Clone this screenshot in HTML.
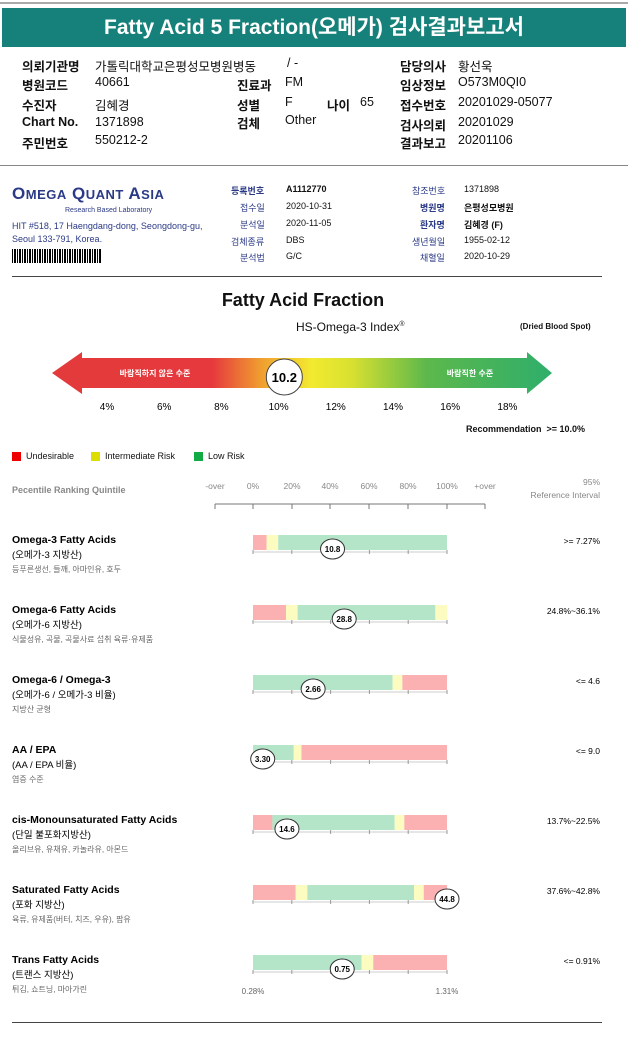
<!DOCTYPE html>
<html><head><meta charset="utf-8">
<style>
body{margin:0;width:628px;height:1040px;background:#fff;font-family:"Liberation Sans","Noto Sans CJK KR",sans-serif;position:relative;overflow:hidden;color:#111}
.a{position:absolute;white-space:nowrap}
.b{font-weight:bold}
</style></head><body>
<div class="a" style="left:0;top:2px;width:628px;height:2px;background:#aaa"></div>
<div class="a" style="left:2px;top:8px;width:624px;height:39px;background:#16807a;color:#fff;font-size:21px;font-weight:bold;text-align:center;line-height:39px">Fatty Acid 5 Fraction(오메가) 검사결과보고서</div>
<div style="font-size:12.5px">
<div class="a b" style="left:22px;top:56px">의뢰기관명</div><div class="a" style="left:95px;top:56px">가톨릭대학교은평성모병원병동</div><div class="a" style="left:287px;top:56px">/ -</div>
<div class="a b" style="left:400px;top:56px">담당의사</div><div class="a" style="left:458px;top:56px">황선욱</div>
<div class="a b" style="left:22px;top:75px">병원코드</div><div class="a" style="left:95px;top:75px">40661</div><div class="a b" style="left:237px;top:75px">진료과</div><div class="a" style="left:285px;top:75px">FM</div>
<div class="a b" style="left:400px;top:75px">임상정보</div><div class="a" style="left:458px;top:75px">O573M0QI0</div>
<div class="a b" style="left:22px;top:95px">수진자</div><div class="a" style="left:95px;top:95px">김혜경</div><div class="a b" style="left:237px;top:95px">성별</div><div class="a" style="left:285px;top:95px">F</div><div class="a b" style="left:327px;top:95px">나이</div><div class="a" style="left:360px;top:95px">65</div>
<div class="a b" style="left:400px;top:95px">접수번호</div><div class="a" style="left:458px;top:95px">20201029-05077</div>
<div class="a b" style="left:22px;top:115px">Chart No.</div><div class="a" style="left:95px;top:115px">1371898</div><div class="a b" style="left:237px;top:113px">검체</div><div class="a" style="left:285px;top:113px">Other</div>
<div class="a b" style="left:400px;top:115px">검사의뢰</div><div class="a" style="left:458px;top:115px">20201029</div>
<div class="a b" style="left:22px;top:133px">주민번호</div><div class="a" style="left:95px;top:133px">550212-2</div>
<div class="a b" style="left:400px;top:133px">결과보고</div><div class="a" style="left:458px;top:133px">20201106</div>
</div>
<div class="a" style="left:0;top:165px;width:628px;height:1px;background:#888"></div>
<div style="font-size:9px">
<div class="a" style="left:12px;top:184px;font-size:17px;color:#2b3a86;letter-spacing:0.5px;font-weight:bold">O<span style="font-size:13px">MEGA</span> Q<span style="font-size:13px">UANT</span> A<span style="font-size:13px">SIA</span></div>
<div class="a" style="left:65px;top:207px;font-size:7px;color:#2b3a86">Research Based Laboratory</div>
<div class="a" style="left:12px;top:221px;color:#2b3a86">HIT #518, 17 Haengdang-dong, Seongdong-gu,</div>
<div class="a" style="left:12px;top:234px;color:#2b3a86">Seoul 133-791, Korea.</div>
<div class="a" style="left:12px;top:249px;width:90px;height:14px;background:repeating-linear-gradient(90deg,#000 0 1px,#fff 1px 2px,#000 2px 4px,#fff 4px 5px)"></div>
<div class="a b" style="left:231px;top:184px;color:#2b3a86">등록번호</div><div class="a b" style="left:286px;top:184px">A1112770</div>
<div class="a" style="left:240px;top:201px;color:#2b3a86">접수일</div><div class="a" style="left:286px;top:201px">2020-10-31</div>
<div class="a" style="left:240px;top:218px;color:#2b3a86">분석일</div><div class="a" style="left:286px;top:218px">2020-11-05</div>
<div class="a" style="left:231px;top:235px;color:#2b3a86">검체종류</div><div class="a" style="left:286px;top:235px">DBS</div>
<div class="a" style="left:240px;top:251px;color:#2b3a86">분석법</div><div class="a" style="left:286px;top:251px">G/C</div>
<div class="a" style="left:412px;top:184px;color:#2b3a86">참조번호</div><div class="a" style="left:464px;top:184px">1371898</div>
<div class="a b" style="left:420px;top:201px;color:#2b3a86">병원명</div><div class="a b" style="left:464px;top:201px">은평성모병원</div>
<div class="a b" style="left:420px;top:218px;color:#2b3a86">환자명</div><div class="a b" style="left:464px;top:218px">김혜경 (F)</div>
<div class="a" style="left:412px;top:235px;color:#2b3a86">생년월일</div><div class="a" style="left:464px;top:235px">1955-02-12</div>
<div class="a" style="left:420px;top:251px;color:#2b3a86">채혈일</div><div class="a" style="left:464px;top:251px">2020-10-29</div>
</div>
<div class="a" style="left:12px;top:276px;width:590px;height:1px;background:#444"></div>
<div class="a b" style="left:0;width:606px;text-align:center;top:290px;font-size:18px">Fatty Acid Fraction</div>
<div class="a" style="left:296px;top:320px;font-size:12px">HS-Omega-3 Index<sup style="font-size:7px">®</sup></div>
<div class="a b" style="left:520px;top:322px;font-size:8px">(Dried Blood Spot)</div>
<svg class="a" style="left:0;top:340px" width="628" height="100" id="idx"></svg>
<div class="a b" style="left:466px;top:424px;font-size:9px">Recommendation &nbsp;&gt;= 10.0%</div>
<div style="font-size:9px">
<div class="a" style="left:12px;top:452px;width:9px;height:9px;background:#e00"></div><div class="a" style="left:26px;top:451px">Undesirable</div>
<div class="a" style="left:91px;top:452px;width:9px;height:9px;background:#dd0"></div><div class="a" style="left:105px;top:451px">Intermediate Risk</div>
<div class="a" style="left:194px;top:452px;width:9px;height:9px;background:#1a4"></div><div class="a" style="left:208px;top:451px">Low Risk</div>
</div>
<div class="a b" style="left:12px;top:485px;font-size:9px;color:#888">Pecentile Ranking Quintile</div>
<div class="a" style="left:500px;top:476px;font-size:8.5px;color:#888;text-align:right;width:100px;line-height:13px">95%<br>Reference Interval</div>
<svg class="a" style="left:0;top:470px" width="628" height="540" id="rk"></svg>
<div class="a" style="left:12px;top:1022px;width:590px;height:1px;background:#444"></div>
<script>
// HS-Omega-3 index
const idxTicks=[4,6,8,10,12,14,16,18];
const idxValue=[10.2];
// Ranking rows
const rowNames=["Omega-3 Fatty Acids","Omega-6 Fatty Acids","Omega-6 / Omega-3","AA / EPA","cis-Monounsaturated Fatty Acids","Saturated Fatty Acids","Trans Fatty Acids"];
const rowKor=["(오메가-3 지방산)","(오메가-6 지방산)","(오메가-6 / 오메가-3 비율)","(AA / EPA 비율)","(단일 불포화지방산)","(포화 지방산)","(트랜스 지방산)"];
const rowDesc=["등푸른생선, 들깨, 아마인유, 호두","식물성유, 곡물, 곡물사료 섭취 육류·유제품","지방산 균형","염증 수준","올리브유, 유채유, 카놀라유, 아몬드","육류, 유제품(버터, 치즈, 우유), 팜유","튀김, 쇼트닝, 마아가린"];
const rowRef=[">= 7.27%","24.8%~36.1%","<= 4.6","<= 9.0","13.7%~22.5%","37.6%~42.8%","<= 0.91%"];
const rowValues=["10.8","28.8","2.66","3.30","14.6","44.8","0.75"];
const rowPercentile=[41,47,31,5,17.5,100,46];
// segment boundaries (percentile) and colors
const rowSegEnds=[[7,13,100],[17,23,94,100],[72,77,100],[21,25,100],[10,73,78,100],[22,28,83,88,100],[56,62,100]];
const rowSegColors=[["r","y","g"],["r","y","g","y"],["g","y","r"],["g","y","r"],["r","g","y","r"],["r","y","g","y","r"],["g","y","r"]];
const axisLabels=["-over","0%","20%","40%","60%","80%","100%","+over"];
const NS="http://www.w3.org/2000/svg";
function mk(p,t,a){const e=document.createElementNS(NS,t);for(const k in a)e.setAttribute(k,a[k]);p.appendChild(e);return e;}
const ix=v=>107+(v-4)*28.6;
const s1=document.getElementById('idx');
const defs=mk(s1,'defs',{});const lg=mk(defs,'linearGradient',{id:'g1',x1:0,x2:1,y1:0,y2:0});
[[0,'#e33a3c'],[0.32,'#e6393d'],[0.42,'#f0a030'],[0.52,'#f2ea30'],[0.6,'#d8e030'],[0.75,'#5cb84c'],[1,'#2fae6b']].forEach(s=>mk(lg,'stop',{offset:s[0],'stop-color':s[1]}));
const arr=mk(s1,'polygon',{points:'52,33 82,12 82,18 527,18 527,12 552,33 527,54 527,48 82,48 82,54',fill:'url(#g1)'});


let t=mk(s1,'text',{x:155,y:36,'font-size':8,'font-weight':'bold',fill:'#fff','text-anchor':'middle'});t.textContent='바람직하지 않은 수준';
t=mk(s1,'text',{x:470,y:36,'font-size':8,'font-weight':'bold',fill:'#fff','text-anchor':'middle'});t.textContent='바람직한 수준';
idxTicks.forEach(v=>{const e=mk(s1,'text',{x:ix(v),y:70,'font-size':10,'text-anchor':'middle'});e.textContent=v+'%';
});
const mx=ix(idxValue[0]);
const c=mk(s1,'circle',{cx:mx,cy:37,r:18,fill:'#fff',stroke:'#444','stroke-width':1});


t=mk(s1,'text',{x:mx,y:42,'font-size':13,'font-weight':'bold','text-anchor':'middle'});t.textContent=idxValue[0].toFixed(1);
const s2=document.getElementById('rk');
const px=p=>253+p*1.94;
const axX=[215,253,292,330,369,408,447,485];
axisLabels.forEach((l,i)=>{const e=mk(s2,'text',{x:axX[i],y:19,'font-size':8.5,fill:'#888','text-anchor':'middle'});e.textContent=l;

mk(s2,'line',{x1:axX[i],x2:axX[i],y1:34,y2:39,stroke:'#777'});});
mk(s2,'line',{x1:215,x2:485,y1:34,y2:34,stroke:'#777'});
const col={r:'#fbb1b1',y:'#fcfcc0',g:'#b4e5c8'};
rowNames.forEach((n,i)=>{
 const y0=65+i*70;
 const g=mk(s2,'g',{});
 
 
 let e=mk(g,'text',{x:12,y:y0+8,'font-size':10.5,'font-weight':'bold'});e.textContent=n;
 e=mk(g,'text',{x:12,y:y0+23,'font-size':9.5});e.textContent=rowKor[i];
 e=mk(g,'text',{x:12,y:y0+37,'font-size':8,fill:'#666'});e.textContent=rowDesc[i];
 e=mk(g,'text',{x:600,y:y0+9,'font-size':8.5,'text-anchor':'end'});e.textContent=rowRef[i];
 let st=0;
 rowSegEnds[i].forEach((en,j)=>{mk(g,'rect',{x:px(st),y:y0,width:px(en)-px(st),height:15,fill:col[rowSegColors[i][j]]});st=en;});
 mk(g,'line',{x1:253,x2:447,y1:y0+17,y2:y0+17,stroke:'#ccc'});
 [0,20,40,60,80,100].forEach(q=>mk(g,'line',{x1:px(q),x2:px(q),y1:y0+15,y2:y0+19,stroke:'#999'}));
 const m=px(rowPercentile[i]);
 mk(g,'ellipse',{cx:m,cy:y0+14,rx:12,ry:10,fill:'#fff',stroke:'#333'});
 e=mk(g,'text',{x:m,y:y0+17,'font-size':8,'font-weight':'bold','text-anchor':'middle'});e.textContent=rowValues[i];
});
let e2=mk(s2,'text',{x:253,y:524,'font-size':8,fill:'#666','text-anchor':'middle'});e2.textContent='0.28%';
e2=mk(s2,'text',{x:447,y:524,'font-size':8,fill:'#666','text-anchor':'middle'});e2.textContent='1.31%';
</script>
</body></html>
